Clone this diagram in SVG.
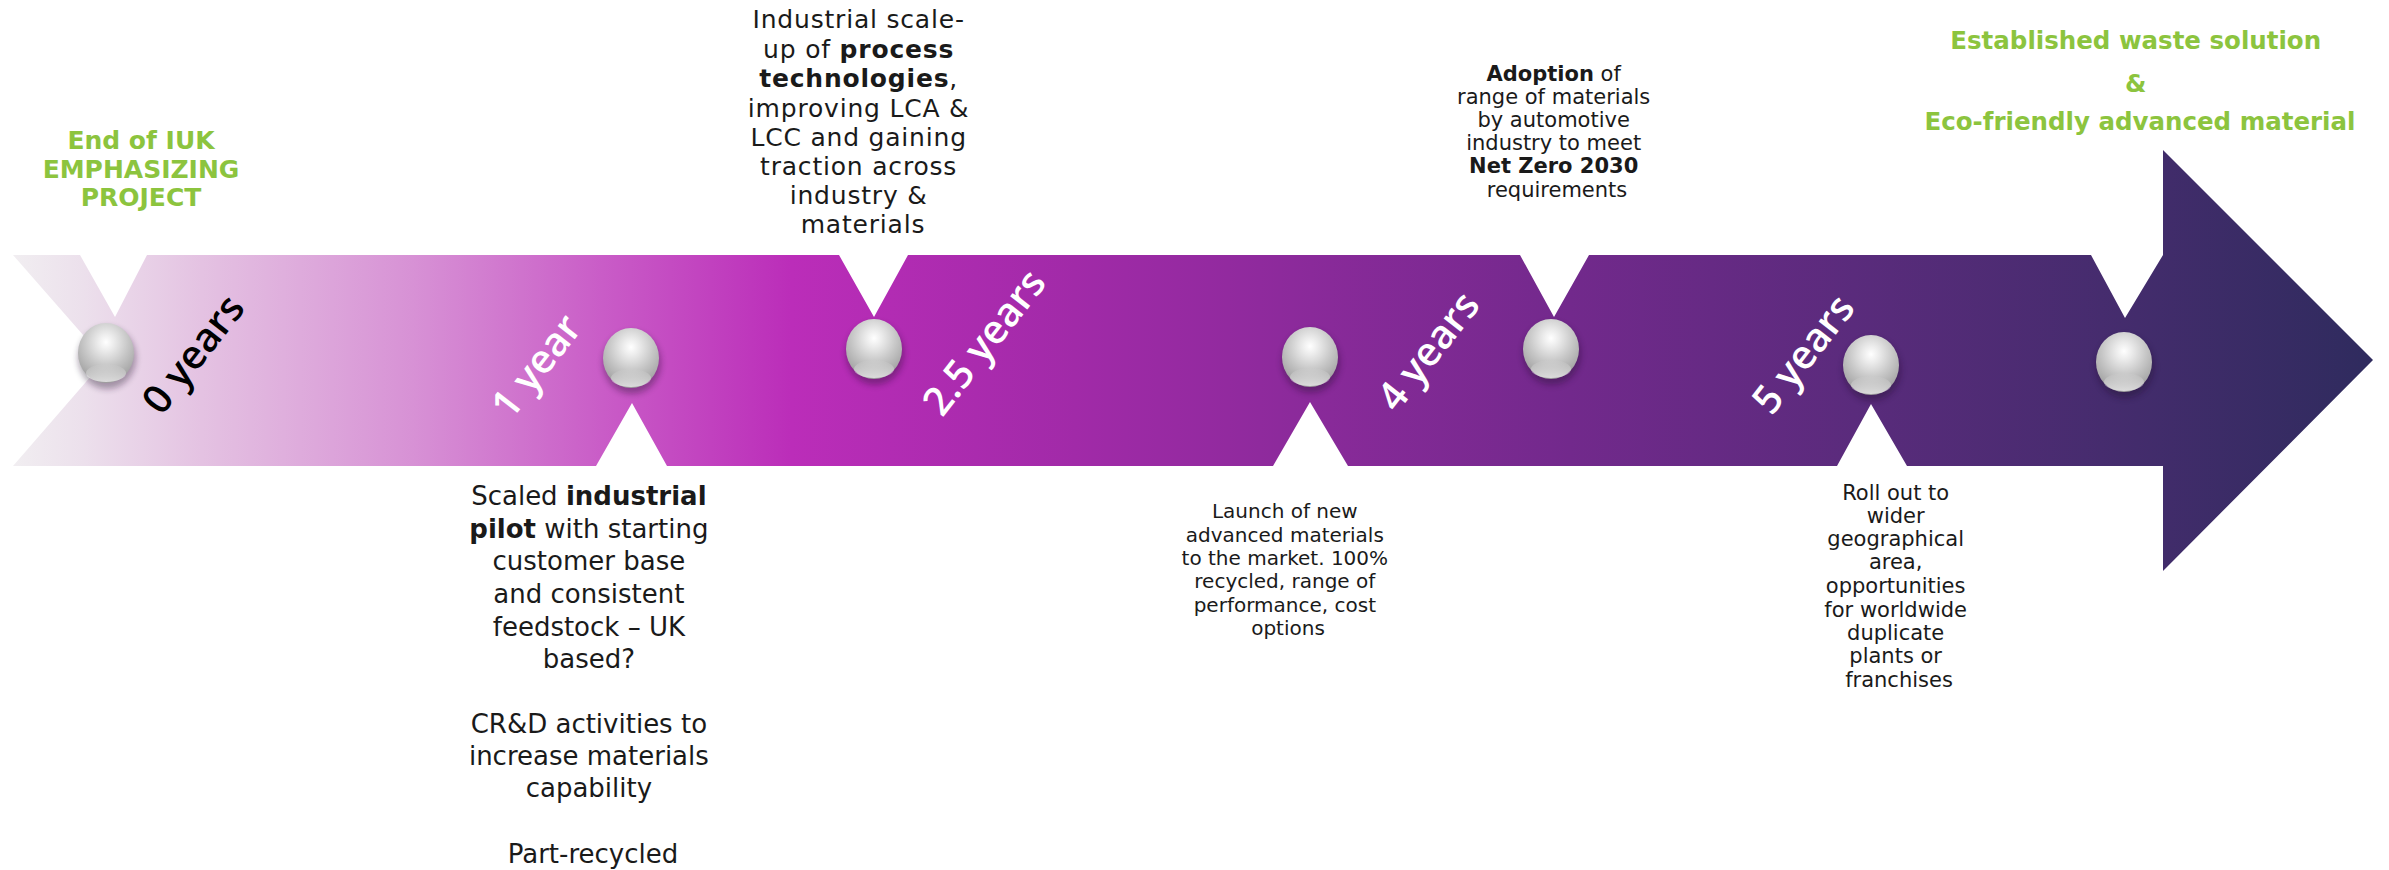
<svg xmlns="http://www.w3.org/2000/svg" xmlns:xlink="http://www.w3.org/1999/xlink" width="2389" height="870" viewBox="0 0 2389 870">
<style>
.body{font-family:"DejaVu Sans","Liberation Sans",sans-serif;fill:#1a1a1a;text-anchor:middle}
.b{font-weight:bold}
.green{font-family:"DejaVu Sans","Liberation Sans",sans-serif;font-weight:bold;fill:#8cc43e;text-anchor:middle}
.yr{font-family:"Open Sans","DejaVu Sans",sans-serif;font-weight:600;font-size:40px;text-anchor:middle}
</style>
<defs>
<linearGradient id="bandGrad" gradientUnits="userSpaceOnUse" x1="13" y1="0" x2="2373" y2="0">
<stop offset="0" stop-color="#f1eef1"/>
<stop offset="0.03" stop-color="#ece0ec"/>
<stop offset="0.08" stop-color="#e4c2e2"/>
<stop offset="0.17" stop-color="#d791d5"/>
<stop offset="0.25" stop-color="#c95cc7"/>
<stop offset="0.33" stop-color="#bb2db9"/>
<stop offset="0.45" stop-color="#a12aa8"/>
<stop offset="0.55" stop-color="#8a2a9a"/>
<stop offset="0.66" stop-color="#72298c"/>
<stop offset="0.78" stop-color="#5a2b7c"/>
<stop offset="0.9" stop-color="#432c6c"/>
<stop offset="1" stop-color="#2f2b5e"/>
</linearGradient>
<radialGradient id="ballGrad" cx="0.5" cy="0.32" r="0.7">
<stop offset="0" stop-color="#ffffff"/>
<stop offset="0.2" stop-color="#ececec"/>
<stop offset="0.55" stop-color="#c8c8c8"/>
<stop offset="0.85" stop-color="#ababab"/>
<stop offset="1" stop-color="#9a9a9a"/>
</radialGradient>
<linearGradient id="rimGrad" x1="0" y1="0" x2="0" y2="1">
<stop offset="0" stop-color="#ffffff" stop-opacity="0"/>
<stop offset="1" stop-color="#ffffff" stop-opacity="0.9"/>
</linearGradient>
<filter id="shadow" x="-50%" y="-50%" width="200%" height="200%">
<feGaussianBlur stdDeviation="3"/>
</filter>
<g id="ball">
<ellipse cx="1" cy="5" rx="29" ry="31" fill="#1e0828" opacity="0.35" filter="url(#shadow)"/>
<ellipse cx="0" cy="0" rx="28" ry="30" fill="url(#ballGrad)"/>
<ellipse cx="0" cy="20" rx="20" ry="9" fill="url(#rimGrad)" opacity="0.7"/>
</g>
</defs>

<g id="timeline-arrow">
<path d="M13,255 H80 L115,317 L147,255 H839 L874,317 L908,255 H1520 L1554,317 L1589,255 H2091 L2125,318 L2163,255 V150 L2373,360 L2163,571 V466 H1907 L1871,404 L1837,466 H1348 L1310,402 L1273,466 H667 L632,403 L596,466 H13 L105,360 Z" fill="url(#bandGrad)"/>
</g>

<g id="milestone-0">
<use href="#ball" x="106" y="353"/>
<text class="yr" fill="#000000" transform="translate(193,354) rotate(-52)" dy="14">0 years</text>
<text class="green" font-size="25"><tspan x="141" y="149">End of IUK</tspan><tspan x="141" y="178">EMPHASIZING</tspan><tspan x="141" y="206">PROJECT</tspan></text>
</g>

<g id="milestone-1">
<use href="#ball" x="631" y="358"/>
<text class="yr" fill="#ffffff" transform="translate(536,366) rotate(-52)" dy="14">1 year</text>
<text class="body" font-size="26">
<tspan x="593" y="505">Scaled <tspan class="b">industrial</tspan></tspan>
<tspan x="593" y="538"><tspan class="b">pilot</tspan> with starting</tspan>
<tspan x="593" y="570">customer base</tspan>
<tspan x="593" y="603">and consistent</tspan>
<tspan x="593" y="636">feedstock – UK</tspan>
<tspan x="593" y="668">based?</tspan>
<tspan x="593" y="733">CR&amp;D activities to</tspan>
<tspan x="593" y="765">increase materials</tspan>
<tspan x="593" y="797">capability</tspan>
<tspan x="593" y="863">Part-recycled</tspan>
</text>
</g>

<g id="milestone-2">
<use href="#ball" x="874" y="349"/>
<text class="yr" fill="#ffffff" transform="translate(984,342) rotate(-52)" dy="14">2.5 years</text>
<text class="body" font-size="25" letter-spacing="0.8">
<tspan x="863" y="28">Industrial scale-</tspan>
<tspan x="863" y="58">up of <tspan class="b">process</tspan></tspan>
<tspan x="863" y="87"><tspan class="b">technologies</tspan>,</tspan>
<tspan x="863" y="117">improving LCA &amp;</tspan>
<tspan x="863" y="146">LCC and gaining</tspan>
<tspan x="863" y="175">traction across</tspan>
<tspan x="863" y="204">industry &amp;</tspan>
<tspan x="863" y="233">materials</tspan>
</text>
</g>

<g id="milestone-3">
<use href="#ball" x="1310" y="357"/>
<text class="yr" fill="#ffffff" transform="translate(1428,351) rotate(-52)" dy="14">4 years</text>
<text class="body" font-size="20">
<tspan x="1288" y="518">Launch of new</tspan>
<tspan x="1288" y="542">advanced materials</tspan>
<tspan x="1288" y="565">to the market. 100%</tspan>
<tspan x="1288" y="588">recycled, range of</tspan>
<tspan x="1288" y="612">performance, cost</tspan>
<tspan x="1288" y="635">options</tspan>
</text>
</g>

<g id="milestone-4">
<use href="#ball" x="1551" y="349"/>
<text class="body" font-size="21">
<tspan x="1557" y="81"><tspan class="b">Adoption</tspan> of</tspan>
<tspan x="1557" y="104">range of materials</tspan>
<tspan x="1557" y="127">by automotive</tspan>
<tspan x="1557" y="150">industry to meet</tspan>
<tspan x="1557" y="173" class="b">Net Zero 2030</tspan>
<tspan x="1557" y="197">requirements</tspan>
</text>
</g>

<g id="milestone-5">
<use href="#ball" x="1871" y="365"/>
<text class="yr" fill="#ffffff" transform="translate(1803,354) rotate(-52)" dy="14">5 years</text>
<text class="body" font-size="21">
<tspan x="1899" y="500">Roll out to</tspan>
<tspan x="1899" y="523">wider</tspan>
<tspan x="1899" y="546">geographical</tspan>
<tspan x="1899" y="569">area,</tspan>
<tspan x="1899" y="593">opportunities</tspan>
<tspan x="1899" y="617">for worldwide</tspan>
<tspan x="1899" y="640">duplicate</tspan>
<tspan x="1899" y="663">plants or</tspan>
<tspan x="1899" y="687">franchises</tspan>
</text>
</g>

<g id="milestone-6">
<use href="#ball" x="2124" y="362"/>
<text class="green" font-size="24.5">
<tspan x="2140" y="49">Established waste solution</tspan>
<tspan x="2140" y="92">&amp;</tspan>
<tspan x="2140" y="130">Eco-friendly advanced material</tspan>
</text>
</g>
</svg>
